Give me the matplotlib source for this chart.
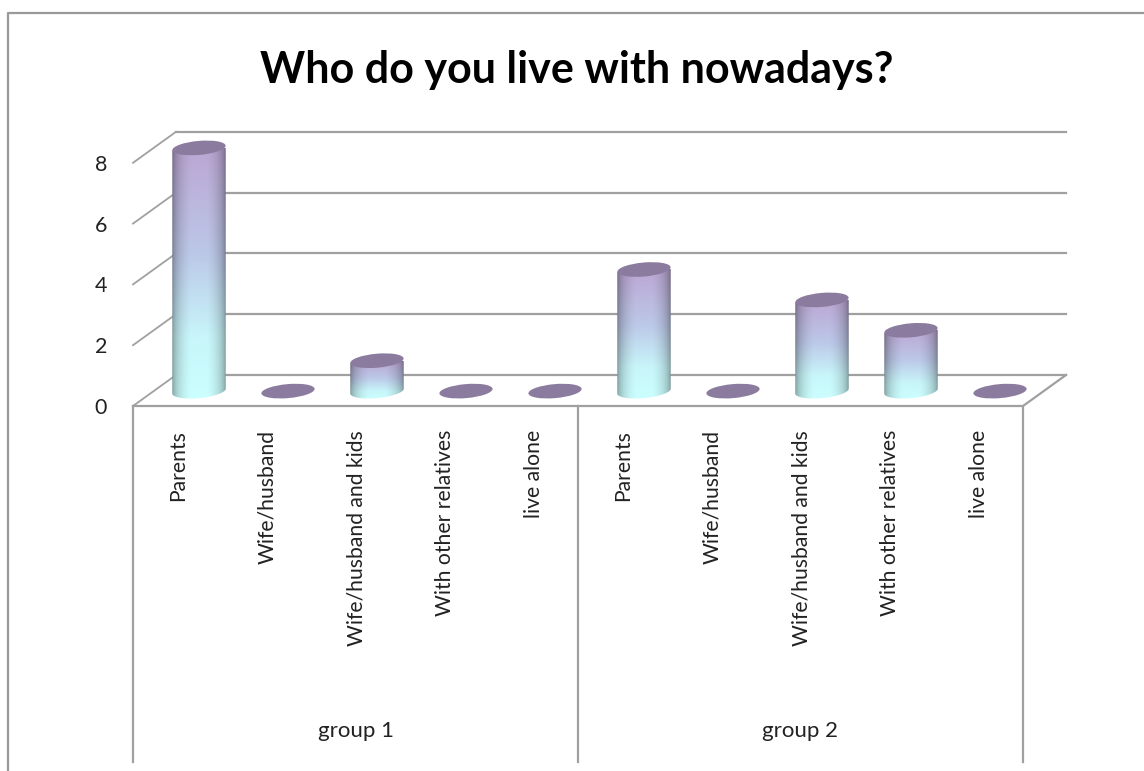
import numpy as np
import matplotlib
matplotlib.use("Agg")
import matplotlib.pyplot as plt
from matplotlib.colors import LinearSegmentedColormap
from matplotlib.transforms import Affine2D

title = "Who do you live with nowadays?"
groups = ["group 1", "group 2"]
categories = ["Parents", "Wife/husband", "Wife/husband and kids",
              "With other relatives", "live alone"]
group1_values = [8, 0, 1, 0, 0]
group2_values = [4, 0, 3, 2, 0]
y_ticks = [0, 2, 4, 6, 8]

W, H = 1144, 771
GRID = "#a0a0a0"
TOP = "#8b7b9e"
DEPTH_X = 43 / 89.0
DEPTH_Y = 31 / 30.4
BOTTOM_PX = 762 - 406
COL_W = 0.6
ELL_H = 0.46
TILT = 5
TILT_Y = 0.08

plt.rcParams["font.family"] = ["Lato", "DejaVu Sans"]

fmap = LinearSegmentedColormap.from_list(
    "col", [(0, "#ccffff"), (0.25, "#c8f6fa"), (0.58, "#bcc8e8"), (1, "#bba6d3")])


def px_x(px):
    return (px - 133) / 89.0


def px_y(py):
    return (406 - py) / 30.4


def draw_cylinder(ax, x, v):
    # centre of the base, half way back on the floor
    cx = x + 0.5 + DEPTH_X / 2
    cy = DEPTH_Y / 2 - 0.02
    if v > 0:
        xs = np.linspace(-1, 1, 120)
        shade = 0.56 + 0.44 * np.clip(np.sqrt(1 - xs ** 2) * 1.05, 0, 1)
        vert = fmap(np.linspace(0, 1, 200))[:, :3]
        img = vert[:, None, :] * shade[None, :, None]
        im = ax.imshow(img, origin="lower", aspect="auto", zorder=3,
                       extent=[cx - COL_W / 2, cx + COL_W / 2, cy - ELL_H / 2 - TILT_Y, cy + v],
                       interpolation="bilinear")
        # body outline: lower half of the tilted base, straight up to the top
        t = np.linspace(np.pi, 2 * np.pi, 50)
        ex = cx + COL_W / 2 * np.cos(t)
        ey = cy + ELL_H / 2 * np.sin(t) + TILT_Y * np.cos(t)
        outline = np.r_[np.c_[ex, ey], [[cx + COL_W / 2, cy + v + TILT_Y]],
                        [[cx - COL_W / 2, cy + v - TILT_Y]]]
        clip = plt.Polygon(outline, transform=ax.transData, fc="none", ec="none")
        ax.add_patch(clip)
        im.set_clip_path(clip)
    # ellipse is given in pixels so the tilt stays round on screen
    ell_w = COL_W * 89
    ell_h = ELL_H * 30.4
    tr = (Affine2D()
          .scale(ell_w / 2, ell_h / 2)
          .rotate_deg(TILT)
          .translate(*ax.transData.transform((cx, cy + v))))
    ax.add_patch(plt.Circle((0, 0), 1, transform=tr, fc=TOP, ec="none", zorder=4))


fig = plt.figure(figsize=(W / 100, H / 100), dpi=100)
ax = fig.add_axes([0, 0, 1, 1])
ax.set_xlim(px_x(0), px_x(W))
ax.set_ylim(px_y(H), px_y(0))
ax.axis("off")

# chart border, only top and left fall inside the picture
ax.plot([px_x(8), px_x(8), px_x(W)], [px_y(H), px_y(13), px_y(13)], color="#999999", lw=1.6)

# gridlines on the back wall and their depth ticks
for t in y_ticks:
    if t > 0:
        ax.plot([DEPTH_X, 10 + DEPTH_X], [t + DEPTH_Y] * 2, color=GRID, lw=1.6, zorder=1)
    ax.plot([0, DEPTH_X], [t, t + DEPTH_Y], color=GRID, lw=1.3, zorder=1)
    ax.text(px_x(107), t, str(t), ha="right", va="center_baseline", fontsize=15.5, color="#222222")

# floor
ax.plot([DEPTH_X, 10 + DEPTH_X], [DEPTH_Y, DEPTH_Y], color=GRID, lw=1.6, zorder=1)
ax.plot([0, 10, 10 + DEPTH_X], [0, 0, DEPTH_Y], color=GRID, lw=1.6, zorder=1)

# group separators below the floor
for x in [0, 5, 10]:
    ax.plot([x, x], [0, -BOTTOM_PX / 30.4], color=GRID, lw=1.6, zorder=1)

all_values = group1_values + group2_values
for i, v in enumerate(all_values):
    draw_cylinder(ax, i, v)
    ax.text(i + 0.51, px_y(430), categories[i % 5], rotation=90, ha="center", va="top",
            fontsize=15.2, color="#222222")

for i, g in enumerate(groups):
    ax.text(2.5 + 5 * i, px_y(731), g, ha="center", va="center", fontsize=16, color="#222222")

ax.text(px_x(577), px_y(70), title, ha="center", va="center", fontsize=31,
        fontweight="bold", color="black")

fig.savefig("out.png", dpi=100)
